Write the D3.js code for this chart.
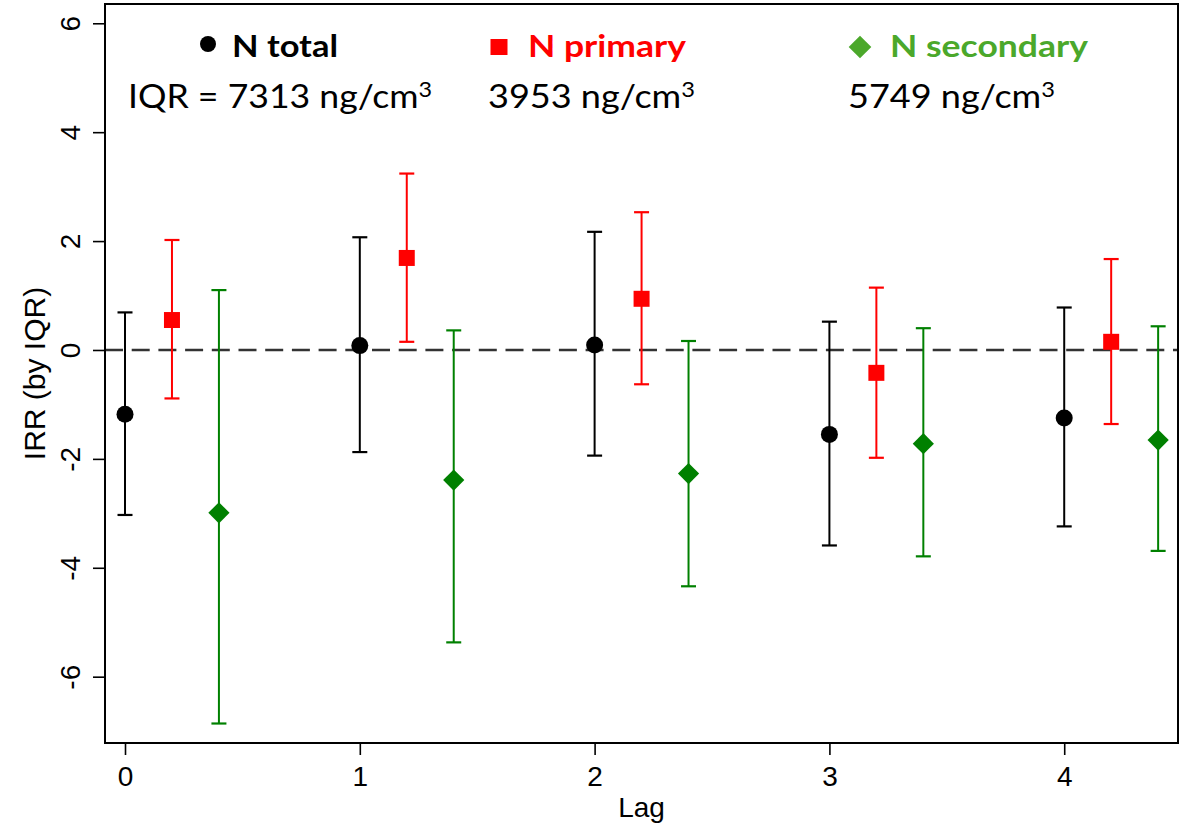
<!DOCTYPE html>
<html>
<head>
<meta charset="utf-8">
<script src="https://cdn.jsdelivr.net/npm/d3@7"></script>
<style>
  html, body { margin: 0; padding: 0; background: #fff; }
  svg { display: block; }
</style>
</head>
<body>
<div id="chart"></div>
<script>
// ---- data ----
const lags = [0, 1, 2, 3, 4];
const seriesNames = ["N total", "N primary", "N secondary"];
const seriesIQR = ["IQR = 7313 ng/cm", "3953 ng/cm", "5749 ng/cm"];
const seriesOffsets = [0, 0.2, 0.4];

const totalEst = [-1.18, 0.08, 0.09, -1.55, -1.25];
const totalLo  = [-3.03, -1.875, -1.94, -3.59, -3.24];
const totalHi  = [0.69, 2.07, 2.17, 0.52, 0.78];

const primaryEst = [0.55, 1.69, 0.94, -0.42, 0.15];
const primaryLo  = [-0.89, 0.15, -0.63, -1.98, -1.36];
const primaryHi  = [2.02, 3.24, 2.53, 1.145, 1.67];

const secondaryEst = [-2.99, -2.39, -2.27, -1.72, -1.655];
const secondaryLo  = [-6.86, -5.37, -4.34, -3.79, -3.69];
const secondaryHi  = [1.10, 0.36, 0.165, 0.40, 0.435];

const yTicks = [-6, -4, -2, 0, 2, 4, 6];
const xTicks = [0, 1, 2, 3, 4];

// ---- layout ----
const W = 1188, H = 827;
const plot = { left: 105, right: 1178, top: 4, bottom: 743 };

const x = d3.scaleLinear().domain([-0.0852, 4.4846]).range([plot.left, plot.right]);
const y = d3.scaleLinear().domain([-7.218, 6.354]).range([plot.bottom, plot.top]);

const svg = d3.select("#chart").append("svg")
  .attr("width", W).attr("height", H)
  .attr("viewBox", `0 0 ${W} ${H}`);

const axisFont = "'Liberation Sans', Arial, Helvetica, sans-serif";
const legendFont = "Lato, 'Open Sans', sans-serif";
const fmt = d => String(d); // plain hyphen-minus like the reference

// ---- axes ----
const yAxis = d3.axisLeft(y).tickValues(yTicks).tickSize(12).tickFormat(fmt);
const gy = svg.append("g").attr("transform", `translate(${plot.left},0)`).call(yAxis);
gy.select(".domain").remove();
gy.selectAll(".tick line").attr("stroke", "#000").attr("stroke-width", 1.6);
gy.selectAll(".tick text")
  .attr("x", null).attr("dy", null)
  .attr("transform", "translate(-25,0) rotate(-90)")
  .attr("text-anchor", "middle")
  .attr("font-family", axisFont).attr("font-size", 28).attr("fill", "#000");

const xAxis = d3.axisBottom(x).tickValues(xTicks).tickSize(12).tickFormat(fmt);
const gx = svg.append("g").attr("transform", `translate(0,${plot.bottom})`).call(xAxis);
gx.select(".domain").remove();
gx.selectAll(".tick line").attr("stroke", "#000").attr("stroke-width", 1.6);
gx.selectAll(".tick text")
  .attr("y", 43).attr("dy", null)
  .attr("font-family", axisFont).attr("font-size", 28).attr("fill", "#000");

// axis titles
svg.append("text")
  .attr("transform", `translate(45,${(plot.top + plot.bottom) / 2}) rotate(-90)`)
  .attr("text-anchor", "middle")
  .attr("font-family", axisFont).attr("font-size", 30).attr("fill", "#000")
  .text("IRR (by IQR)");
svg.append("text")
  .attr("x", (plot.left + plot.right) / 2).attr("y", 817)
  .attr("text-anchor", "middle")
  .attr("font-family", axisFont).attr("font-size", 28).attr("fill", "#000")
  .text("Lag");

// ---- zero reference line ----
svg.append("line")
  .attr("x1", plot.left).attr("x2", plot.right)
  .attr("y1", y(0)).attr("y2", y(0))
  .attr("stroke", "#333").attr("stroke-width", 2.6)
  .attr("stroke-dasharray", "18,8.7");

// ---- series ----
const colors = ["#000000", "#ff0000", "#008000"];
const series = [
  { est: totalEst, lo: totalLo, hi: totalHi, shape: "circle" },
  { est: primaryEst, lo: primaryLo, hi: primaryHi, shape: "square" },
  { est: secondaryEst, lo: secondaryLo, hi: secondaryHi, shape: "diamond" }
];
const capW = 15;

series.forEach((s, si) => {
  const g = svg.append("g");
  const pts = lags.map((l, i) => ({ xv: l + seriesOffsets[si], est: s.est[i], lo: s.lo[i], hi: s.hi[i] }));
  g.selectAll("line.bar").data(pts).enter().append("line")
    .attr("x1", d => x(d.xv)).attr("x2", d => x(d.xv))
    .attr("y1", d => y(d.lo)).attr("y2", d => y(d.hi))
    .attr("stroke", colors[si]).attr("stroke-width", 2);
  ["lo", "hi"].forEach(k => {
    g.selectAll("line.cap" + k).data(pts).enter().append("line")
      .attr("x1", d => x(d.xv) - capW / 2).attr("x2", d => x(d.xv) + capW / 2)
      .attr("y1", d => y(d[k])).attr("y2", d => y(d[k]))
      .attr("stroke", colors[si]).attr("stroke-width", 2.2);
  });
  let sym;
  if (s.shape === "circle") sym = d3.symbol().type(d3.symbolCircle).size(Math.PI * 8.5 * 8.5);
  else if (s.shape === "square") sym = d3.symbol().type(d3.symbolSquare).size(16 * 16);
  else sym = d3.symbol().type(d3.symbolSquare).size(15 * 15);
  g.selectAll("path.m").data(pts).enter().append("path")
    .attr("d", sym)
    .attr("transform", d => `translate(${x(d.xv)},${y(d.est)})` + (s.shape === "diamond" ? " rotate(45)" : ""))
    .attr("fill", colors[si]);
});

// ---- frame ----
svg.append("rect")
  .attr("x", plot.left).attr("y", plot.top)
  .attr("width", plot.right - plot.left).attr("height", plot.bottom - plot.top)
  .attr("fill", "none").attr("stroke", "#000").attr("stroke-width", 2);

// ---- legend annotations ----
const legendColors = ["#000000", "#ff0000", "#4ba82b"];
const legendMarkerX = [208, 499, 860];
const legendTextX = [232, 528, 890];
const legendTextW = [106, 158, 198];
const iqrX = [128, 488, 848];
const iqrW = [304, 207, 207];
const leg = svg.append("g");

leg.append("circle").attr("cx", legendMarkerX[0]).attr("cy", 44).attr("r", 8).attr("fill", legendColors[0]);
leg.append("rect").attr("x", legendMarkerX[1] - 8.5).attr("y", 39).attr("width", 17).attr("height", 16).attr("fill", legendColors[1]);
leg.append("path")
  .attr("d", d3.symbol().type(d3.symbolSquare).size(16 * 16))
  .attr("transform", `translate(${legendMarkerX[2]},47) rotate(45)`)
  .attr("fill", legendColors[2]);

seriesNames.forEach((n, i) => {
  leg.append("text")
    .attr("x", legendTextX[i]).attr("y", 57)
    .attr("font-family", legendFont).attr("font-weight", "bold").attr("font-size", 31)
    .attr("fill", legendColors[i])
    .attr("textLength", legendTextW[i]).attr("lengthAdjust", "spacingAndGlyphs")
    .text(n);
});
seriesIQR.forEach((t, i) => {
  const tx = leg.append("text")
    .attr("x", iqrX[i]).attr("y", 108)
    .attr("font-family", legendFont).attr("font-size", 32).attr("fill", "#000")
    .attr("textLength", iqrW[i]).attr("lengthAdjust", "spacingAndGlyphs");
  tx.append("tspan").text(t);
  tx.append("tspan").attr("font-size", 21).attr("dy", -11).text("3");
});
</script>
</body>
</html>
